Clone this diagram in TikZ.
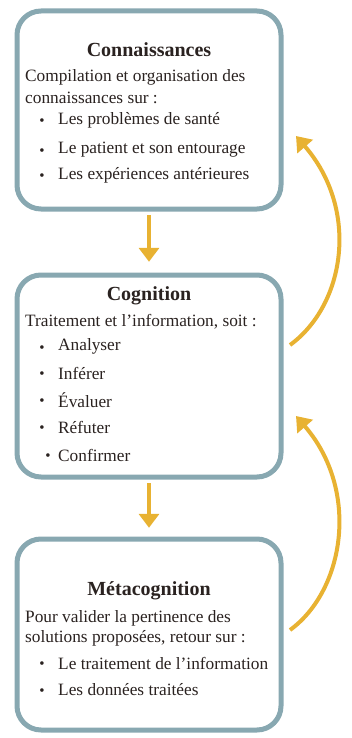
\documentclass[tikz,border=0pt]{standalone}
\usepackage{fontspec}
\setmainfont{Liberation Serif}
\usetikzlibrary{arrows.meta}
\definecolor{boxline}{HTML}{88A8B1}
\definecolor{arrowc}{HTML}{E8B232}
\definecolor{txt}{HTML}{2A2220}
\tikzset{
  box/.style={draw=boxline, line width=5pt, rounded corners=24pt, fill=white},
  title/.style={font=\bfseries\fontsize{20}{23}\selectfont, text=txt, inner sep=0pt},
  body/.style={font=\fontsize{17.3}{20}\selectfont, text=txt, inner sep=0pt, anchor=west},
  bul/.style={font=\fontsize{15}{18}\selectfont, text=txt, inner sep=0pt},
  flow/.style={draw=arrowc, line width=4pt, -{Triangle[width=20pt,length=14pt]}},
}
\begin{document}
\begin{tikzpicture}[x=1pt,y=-1pt]
\useasboundingbox (0,0) rectangle (351,738);
% boxes
\draw[box] (17,11) rectangle (281,209);
\node[inner sep=0pt, minimum width=264pt, minimum height=198pt] (b1) at (149,110) {};
\draw[box] (17,275) rectangle (281,477);
\node[inner sep=0pt, minimum width=264pt, minimum height=202pt] (b2) at (149,376) {};
\draw[box] (17,539) rectangle (281,730);
\node[inner sep=0pt, minimum width=264pt, minimum height=191pt] (b3) at (149,634.5) {};
% box 1 text
\node[title] (t1) at (149,50) {Connaissances};
\node[body] (l11) at (25,77) {Compilation et organisation des};
\node[body] (l12) at (25,98) {connaissances sur :};
\node[bul] (d11) at (42,122) {•};
\node[body] (i11) at (58,120) {Les problèmes de santé};
\node[bul] (d12) at (42,152) {•};
\node[body] (i12) at (58,150) {Le patient et son entourage};
\node[bul] (d13) at (42,177) {•};
\node[body] (i13) at (58,175) {Les expériences antérieures};
% box 2 text
\node[title] (t2) at (149,296) {Cognition};
\node[body] (l21) at (25,322) {Traitement et l’information, soit :};
\node[bul] (d21) at (42,349) {•};
\node[body] (i21) at (58,346) {Analyser};
\node[bul] (d22) at (42,375) {•};
\node[body] (i22) at (58,373) {Inférer};
\node[bul] (d23) at (42,402) {•};
\node[body] (i23) at (58,400) {Évaluer};
\node[bul] (d24) at (42,429) {•};
\node[body] (i24) at (58,427) {Réfuter};
\node[bul] (d25) at (48,457) {•};
\node[body] (i25) at (58,455) {Confirmer};
% box 3 text
\node[title] (t3) at (149,591) {Métacognition};
\node[body] (l31) at (25,618) {Pour valider la pertinence des};
\node[body] (l32) at (25,638) {solutions proposées, retour sur :};
\node[bul] (d31) at (42,665) {•};
\node[body] (i31) at (58,663) {Le traitement de l’information};
\node[bul] (d32) at (42,692) {•};
\node[body] (i32) at (58,690) {Les données traitées};
% straight arrows
\draw[flow] ([yshift=-6pt]b1.south) -- ([yshift=13pt]b2.north);
\draw[flow] ([yshift=-6pt]b2.south) -- ([yshift=11pt]b3.north);
% feedback arrows
\coordinate (s1) at (290,345);
\coordinate (e1) at (296,136);
\coordinate (s2) at (290,630);
\coordinate (e2) at (296,416);
\draw[flow] (s1) .. controls (345,305) and (360,210) .. (e1);
\draw[flow] (s2) .. controls (345,590) and (360,490) .. (e2);
\end{tikzpicture}
\end{document}
